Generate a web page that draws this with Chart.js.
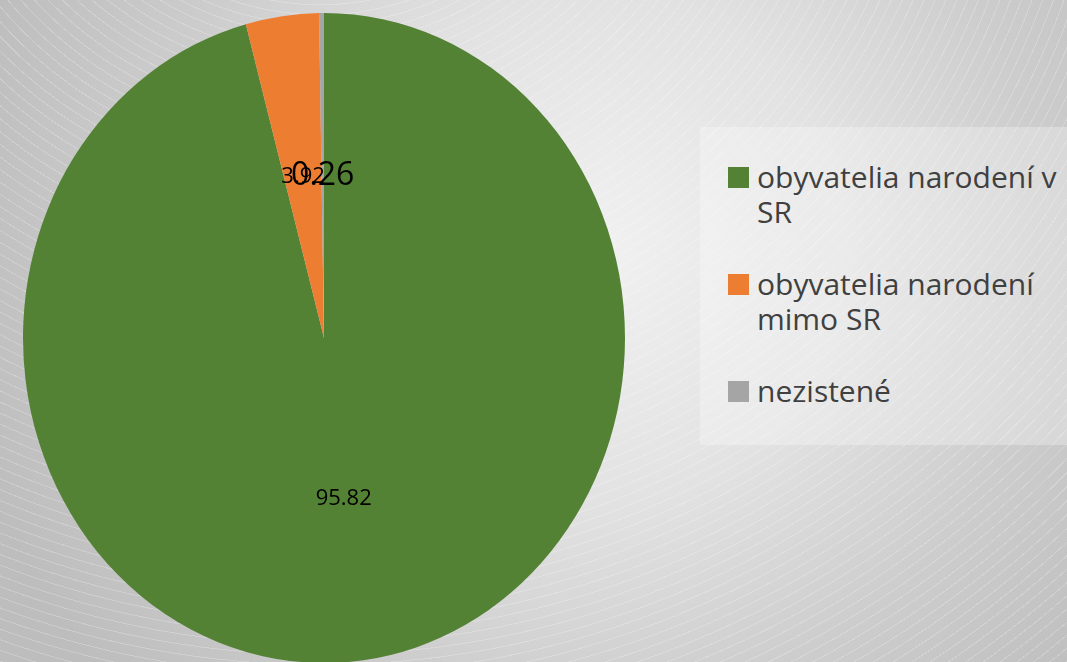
<!DOCTYPE html>
<html lang="sk">
<head>
<meta charset="utf-8">
<title>Obyvatelia podľa miesta narodenia</title>
<script src="https://cdn.jsdelivr.net/npm/chart.js@4.4.1/dist/chart.umd.min.js"></script>
<style>
  html, body {
    margin: 0;
    padding: 0;
    width: 1067px;
    height: 662px;
    overflow: hidden;
  }
  body {
    position: relative;
    font-family: "Open Sans", "Noto Sans", sans-serif;
    background:
      repeating-radial-gradient(circle at 30% -40%, rgba(255,255,255,0) 0 9px, rgba(255,255,255,0.22) 9px 10px),
      radial-gradient(circle at 56% 38%, #f1f1f1 0%, #e2e2e2 35%, #cdcdcd 62%, #bdbdbd 90%);
  }
  #pieWrap {
    position: absolute;
    left: 0;
    top: 0;
    width: 648px;
    height: 676px;
  }
  #legend {
    position: absolute;
    left: 700px;
    top: 127px;
    width: 367px;
    height: 318px;
    box-sizing: border-box;
    padding-top: 32px;
    background: rgba(255, 255, 255, 0.28);
  }
  .item {
    display: flex;
    align-items: flex-start;
    margin-bottom: 37px;
  }
  .swatch {
    flex: none;
    width: 21px;
    height: 21px;
    margin-left: 28px;
    margin-top: 8px;
  }
  .text {
    width: 320px;
    margin-left: 8px;
    font-size: 30px;
    line-height: 35px;
    color: #404040;
  }
</style>
</head>
<body>
<div id="pieWrap"><canvas id="pieChart"></canvas></div>
<div id="legend"></div>

<script>
// data
const categories = ['obyvatelia narodení v SR', 'obyvatelia narodení mimo SR', 'nezistené'];
const shares = [95.82, 3.92, 0.26];
const sliceColors = ['#548235', '#ED7D31', '#A5A5A5'];

// label font size per slice (the small slice label is bigger in the original)
const labelSizes = [22, 22, 32];

// the original pie is a bit taller than wide
const Y_STRETCH = 325 / 301;

// draws the pie squashed into an ellipse, then the value labels on top
const ellipsePie = {
  id: 'ellipsePie',
  beforeDatasetsDraw(chart) {
    const arc = chart.getDatasetMeta(0).data[0];
    const ctx = chart.ctx;
    ctx.save();
    ctx.translate(arc.x, arc.y);
    ctx.scale(1, Y_STRETCH);
    ctx.translate(-arc.x, -arc.y);
  },
  afterDatasetsDraw(chart) {
    const ctx = chart.ctx;
    ctx.restore();

    const meta = chart.getDatasetMeta(0);
    ctx.save();
    ctx.fillStyle = '#000000';
    ctx.textAlign = 'center';
    ctx.textBaseline = 'middle';
    meta.data.forEach((arc, i) => {
      const p = arc.getProps(['x', 'y', 'startAngle', 'endAngle', 'outerRadius'], true);
      const mid = (p.startAngle + p.endAngle) / 2;
      const lx = p.x + Math.cos(mid) * p.outerRadius * 0.5;
      const ly = p.y + Math.sin(mid) * p.outerRadius * 0.5 * Y_STRETCH;
      ctx.font = labelSizes[i] + 'px "Open Sans", sans-serif';
      ctx.fillText(shares[i].toFixed(2), lx, ly);
    });
    ctx.restore();
  }
};

document.addEventListener('DOMContentLoaded', function() {
  const pieCtx = document.getElementById('pieChart');

  new Chart(pieCtx, {
    type: 'pie',
    data: {
      labels: categories,
      datasets: [{
        data: shares,
        backgroundColor: sliceColors,
        borderWidth: 0
      }]
    },
    options: {
      responsive: true,
      maintainAspectRatio: false,
      animation: false,
      layout: {
        padding: { left: 23, right: 23, top: 37, bottom: 37 }
      },
      plugins: {
        legend: { display: false },
        tooltip: { enabled: false }
      }
    },
    plugins: [ellipsePie]
  });

  // legend built from the same arrays
  const legend = document.getElementById('legend');
  categories.forEach((name, i) => {
    const item = document.createElement('div');
    item.className = 'item';
    const sw = document.createElement('span');
    sw.className = 'swatch';
    sw.style.background = sliceColors[i];
    const txt = document.createElement('span');
    txt.className = 'text';
    txt.textContent = name;
    item.appendChild(sw);
    item.appendChild(txt);
    legend.appendChild(item);
  });
});
</script>
</body>
</html>
